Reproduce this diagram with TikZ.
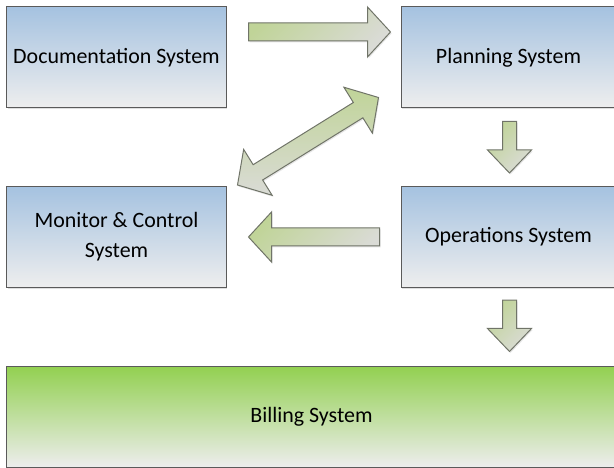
\documentclass[tikz,border=0pt]{standalone}
\usepackage{fontspec}
\setmainfont{Carlito}
\usetikzlibrary{calc,shadows}

\definecolor{boxtop}{RGB}{165,194,224}
\definecolor{boxbot}{RGB}{238,238,238}
\definecolor{billtop}{RGB}{146,208,80}
\definecolor{billbot}{RGB}{237,237,237}
\definecolor{arrowgreen}{RGB}{192,212,152}
\definecolor{arrowgray}{RGB}{218,219,214}
\definecolor{edgegray}{RGB}{90,90,90}
\definecolor{arrowedge}{RGB}{112,116,104}

% block arrow: [options]{from}{to}{shaft half width}{head half width}
\newcommand{\blockarrow}[5][]{%
  \coordinate (ba-a) at (#2);
  \coordinate (ba-b) at (#3);
  \coordinate (ba-h) at ($(ba-b)!23bp!(ba-a)$);
  \shade[flowarrow,#1] ($(ba-a)!#4!90:(ba-b)$) -- ($(ba-h)!#4!90:(ba-b)$)
    -- ($(ba-h)!#5!90:(ba-b)$) -- (ba-b) -- ($(ba-h)!#5!-90:(ba-b)$)
    -- ($(ba-h)!#4!-90:(ba-b)$) -- ($(ba-a)!#4!-90:(ba-b)$) -- cycle;
}
% same with a head at both ends
\newcommand{\dblarrow}[5][]{%
  \coordinate (da-a) at (#2);
  \coordinate (da-b) at (#3);
  \coordinate (da-h) at ($(da-b)!24bp!(da-a)$);
  \coordinate (da-t) at ($(da-a)!24bp!(da-b)$);
  \shade[flowarrow,#1] (da-a) -- ($(da-t)!#5!90:(da-b)$) -- ($(da-t)!#4!90:(da-b)$)
    -- ($(da-h)!#4!90:(da-b)$) -- ($(da-h)!#5!90:(da-b)$) -- (da-b)
    -- ($(da-h)!#5!-90:(da-b)$) -- ($(da-h)!#4!-90:(da-b)$)
    -- ($(da-t)!#4!-90:(da-b)$) -- ($(da-t)!#5!-90:(da-b)$) -- cycle;
}

\begin{document}
\begin{tikzpicture}[x=1bp,y=-1bp]
	\tikzset{sysbox/.style={draw=edgegray,line width=1bp,top color=boxtop,bottom color=boxbot,
		minimum height=101bp,inner sep=0pt,align=center,
		font=\fontsize{22}{30}\selectfont,
		drop shadow={shadow xshift=1bp,shadow yshift=-1.5bp,opacity=0.25}}}
	\tikzset{billbox/.style={sysbox,top color=billtop,bottom color=billbot}}
	\tikzset{flowarrow/.style={draw=arrowedge,line width=1bp,line join=miter,
		top color=arrowgreen,bottom color=arrowgray,shading angle=45,
		drop shadow={shadow xshift=1bp,shadow yshift=-1.5bp,opacity=0.2}}}

	\useasboundingbox (0,0) rectangle (614,468);

	\node[sysbox,minimum width=219bp] (doc) at (116.5,57.5) {Documentation System};
	\node[sysbox,minimum width=217bp] (plan) at (509.5,57.5) {\hspace*{-2bp}Planning System};
	\node[sysbox,minimum width=219bp] (mon) at (116.5,237) {Monitor \& Control\\System};
	\node[sysbox,minimum width=217bp] (ops) at (509.5,237) {\hspace*{-2bp}Operations System};
	\node[billbox,minimum width=609bp] (bill) at (311.5,416.5) {Billing System};

	% arrows between the systems
	\blockarrow{$(doc.north east)!0.25!(doc.south east)+(22,0)$}{$(plan.north west)!0.25!(plan.south west)+(-10,0)$}{9bp}{25bp}
	\blockarrow{$(plan.south)+(0,13)$}{$(ops.north)+(0,-13)$}{7bp}{22bp}
	\blockarrow{$(ops.west)+(-21,0)$}{$(mon.east)+(22,0)$}{9bp}{25bp}
	\blockarrow{$(ops.south)+(0,12)$}{$(ops.south |- bill.north)+(0,-14)$}{7bp}{22bp}
	\dblarrow[shading angle=0]{$(plan.south west)+(-22,-11)$}{$(mon.north east)+(11,-1)$}{9bp}{27bp}
\end{tikzpicture}
\end{document}
